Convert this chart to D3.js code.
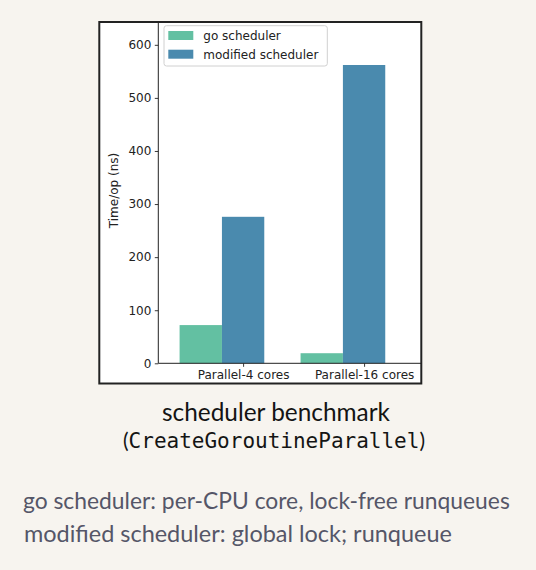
<!DOCTYPE html>
<html>
<head>
<meta charset="utf-8">
<script src="https://cdn.jsdelivr.net/npm/d3@7"></script>
<style>
  html, body { margin: 0; padding: 0; background: #f7f4ef; }
  svg { display: block; }
</style>
</head>
<body>
<svg id="chart" width="536" height="570"></svg>
<script>
// ---- data ----
const categories = ["Parallel-4 cores", "Parallel-16 cores"];
const seriesNames = ["go scheduler", "modified scheduler"];
const goScheduler = [72, 19];
const modifiedScheduler = [276, 562];
const yTicks = [0, 100, 200, 300, 400, 500, 600];
const yLabel = "Time/op (ns)";
const titleLine = "scheduler benchmark";
const titleCode = "CreateGoroutineParallel";
const notes = [
  "go scheduler: per-CPU core, lock-free runqueues",
  "modified scheduler: global lock; runqueue"
];

// ---- styles ----
const colors = ["#63c0a2", "#4a8aae"];
const chartFont = "DejaVu Sans";
const svg = d3.select("#chart");

// frame (cropped figure)
const frame = {x: 99.3, y: 22, w: 322, h: 361.5};
svg.append("rect")
  .attr("x", frame.x).attr("y", frame.y)
  .attr("width", frame.w).attr("height", frame.h)
  .attr("fill", "#ffffff");

svg.append("clipPath").attr("id", "clip")
  .append("rect").attr("x", frame.x).attr("y", frame.y)
  .attr("width", frame.w).attr("height", frame.h);

const g = svg.append("g").attr("clip-path", "url(#clip)");

const plotLeft = 158.3, plotRight = 421.3, plotBottom = 363.3, plotTop = 22;
const barW = 0.35;
const x = d3.scaleLinear().domain([-0.526, 1.648]).range([plotLeft, plotRight]);
const y = d3.scaleLinear().domain([0, 643]).range([plotBottom, plotTop]);

// bars
const series = [goScheduler, modifiedScheduler];
series.forEach((vals, s) => {
  g.selectAll(".bar" + s).data(vals).enter().append("rect")
    .attr("x", (d, i) => x(s === 0 ? i - barW : i))
    .attr("width", (d, i) => x(barW) - x(0))
    .attr("y", d => y(d))
    .attr("height", d => y(0) - y(d))
    .attr("fill", colors[s]);
});

// y axis
const yAxis = d3.axisLeft(y).tickValues(yTicks).tickSize(3.5).tickPadding(3.5).tickFormat(d3.format("d"));
const yg = g.append("g").attr("transform", `translate(${plotLeft},0)`).call(yAxis);
yg.select(".domain").remove();
yg.selectAll(".tick line").attr("stroke", "#222").attr("stroke-width", 0.9);
yg.selectAll(".tick text").attr("font-family", chartFont).attr("font-size", 12).attr("fill", "#222");
g.append("line").attr("x1", plotLeft).attr("x2", plotLeft)
  .attr("y1", plotTop).attr("y2", plotBottom)
  .attr("stroke", "#222").attr("stroke-width", 1);

// x axis
const xAxis = d3.axisBottom(x)
  .tickValues(categories.map((c, i) => i + barW / 2))
  .tickFormat((d, i) => categories[i])
  .tickSize(3.5).tickPadding(3.5);
const xg = g.append("g").attr("transform", `translate(0,${plotBottom})`).call(xAxis);
xg.select(".domain").remove();
xg.selectAll(".tick line").attr("stroke", "#222").attr("stroke-width", 0.9);
xg.selectAll(".tick text").attr("font-family", chartFont).attr("font-size", 12).attr("fill", "#222");
g.append("line").attr("x1", plotLeft).attr("x2", plotRight)
  .attr("y1", plotBottom).attr("y2", plotBottom)
  .attr("stroke", "#222").attr("stroke-width", 1);

// y label
g.append("text")
  .attr("transform", `translate(117.5,190.5) rotate(-90)`)
  .attr("text-anchor", "middle")
  .attr("font-family", chartFont).attr("font-size", 12).attr("fill", "#222")
  .text(yLabel);

// legend
const lg = g.append("g");
lg.append("rect").attr("x", 164).attr("y", 25.7).attr("width", 163.3).attr("height", 40.3)
  .attr("rx", 2.5).attr("fill", "#ffffff").attr("fill-opacity", 0.8)
  .attr("stroke", "#d0d0d0").attr("stroke-width", 1);
seriesNames.forEach((name, i) => {
  lg.append("rect").attr("x", 168.3).attr("y", 31 + i * 18.7)
    .attr("width", 25).attr("height", 9).attr("fill", colors[i]);
  lg.append("text").attr("x", 203.3).attr("y", 39.8 + i * 18.7)
    .attr("font-family", chartFont).attr("font-size", 12).attr("fill", "#222")
    .text(name);
});

// frame border
svg.append("rect")
  .attr("x", frame.x).attr("y", frame.y)
  .attr("width", frame.w).attr("height", frame.h)
  .attr("fill", "none").attr("stroke", "#222").attr("stroke-width", 2);

// ---- captions ----
function fitWidth(sel, target) {
  const fs = parseFloat(sel.attr("font-size"));
  const w = sel.node().getComputedTextLength();
  if (w > 0) sel.attr("font-size", fs * target / w);
}

const t1 = svg.append("text").attr("x", 276).attr("y", 420.5)
  .attr("text-anchor", "middle").attr("font-family", "Lato").attr("font-size", 20)
  .attr("fill", "#141414").text(titleLine);
fitWidth(t1, 228);

const t2 = svg.append("text").attr("x", 274).attr("y", 448)
  .attr("text-anchor", "middle").attr("font-family", "Lato").attr("font-size", 21)
  .attr("fill", "#141414");
t2.append("tspan").text("(");
t2.append("tspan").attr("font-family", "DejaVu Sans Mono").attr("font-size", 21).text(titleCode);
t2.append("tspan").text(")");

const noteY = [508.5, 541.5];
const noteW = [487, 428];
const noteX = [23, 24];
notes.forEach((n, i) => {
  const t = svg.append("text").attr("x", noteX[i]).attr("y", noteY[i])
    .attr("font-family", "Lato").attr("font-size", 20).attr("fill", "#555668")
    .text(n);
  fitWidth(t, noteW[i]);
});
</script>
</body>
</html>
